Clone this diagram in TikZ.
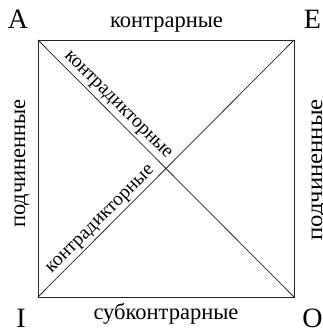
\documentclass[tikz,border=0pt]{standalone}
\usepackage{fontspec}
\setmainfont{Liberation Serif}
\begin{document}
\begin{tikzpicture}[x=1pt,y=1pt,
  edge/.style={draw=black!85,line width=0.75pt},
  corner/.style={font=\fontsize{28}{28}\selectfont,inner sep=0pt,anchor=base},
  lbl/.style={font=\fontsize{22.5}{22.5}\selectfont,inner sep=0pt,anchor=base},
  dlbl/.style={font=\fontsize{19.5}{19.5}\selectfont,inner sep=0pt,anchor=base}]
\useasboundingbox (0,0) rectangle (323,330);
\coordinate (a) at (38,290);
\coordinate (e) at (294,290);
\coordinate (i) at (38,33);
\coordinate (o) at (294,33);
\draw[edge] (a) -- (e) -- (o) -- (i) -- cycle;
\draw[edge] (a) -- (o);
\draw[edge] (i) -- (e);
\node[dlbl,rotate=-45] (d1) at (115.4,222.4) {контрадикторные};
\node[dlbl,rotate=45] (d2) at (103.1,107.9) {контрадикторные};
\node[corner] (la) at (18,301) {A};
\node[corner] (le) at (312.5,301) {E};
\node[corner] (li) at (21,2) {I};
\node[corner] (lo) at (312.5,2) {O};
\node[lbl] (top) at (166.5,302) {контрарные};
\node[lbl] (bot) at (166,11) {субконтрарные};
\node[lbl,rotate=90] (left) at (25,166.5) {подчиненные};
\node[lbl,rotate=90] (right) at (322,160) {\scalebox{1.1}[1]{подчиненные}};
\end{tikzpicture}
\end{document}
